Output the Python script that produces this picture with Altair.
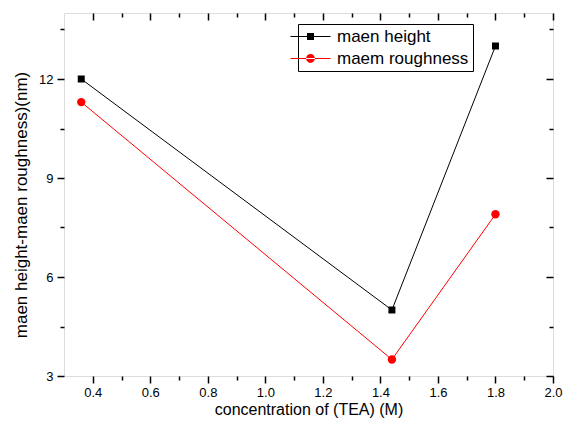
import altair as alt
import pandas as pd

# ---- data ----
conc = [0.36, 1.44, 1.80]
mean_height = [12.0, 5.0, 13.0]
mean_roughness = [11.3, 3.5, 7.9]
series_names = ["maen height", "maem roughness"]
series_colors = ["#000000", "#ff0000"]

x_major = [0.4, 0.6, 0.8, 1.0, 1.2, 1.4, 1.6, 1.8, 2.0]
x_minor = [0.5, 0.7, 0.9, 1.1, 1.3, 1.5, 1.7, 1.9]
y_major = [3, 6, 9, 12]
y_minor = [4.5, 7.5, 10.5, 13.5]

df = pd.DataFrame({
    "conc": conc + conc,
    "value": mean_height + mean_roughness,
    "series": [series_names[0]] * len(conc) + [series_names[1]] * len(conc),
})

FONT = "Liberation Sans"
xs = alt.Scale(domain=[0.3, 2.0], nice=False, zero=False)
ys = alt.Scale(domain=[3, 14], nice=False, zero=False)

common = dict(grid=False, domain=False, tickColor="black", tickWidth=1.5,
              labelFont=FONT, titleFont=FONT, labelColor="black", titleColor="black",
              labelFlush=False, labelOverlap=False)

ax_bottom = alt.Axis(values=x_major, format=".1f", orient="bottom", tickSize=7,
                     labelFontSize=13, labelPadding=3,
                     title="concentration of (TEA) (M)", titleFontSize=16,
                     titleFontWeight="normal", titlePadding=2, **common)
ax_bottom_minor = alt.Axis(values=x_minor, orient="bottom", tickSize=4, labels=False,
                           title=None, **common)
ax_top = alt.Axis(values=x_major, orient="top", tickSize=7, offset=-7, labels=False,
                  title=None, **common)
ax_top_minor = alt.Axis(values=x_minor, orient="top", tickSize=4, offset=-4, labels=False,
                        title=None, **common)

ax_left = alt.Axis(values=y_major, format="d", orient="left", tickSize=7,
                   labelFontSize=13, labelPadding=4,
                   title="maen height-maen roughness)(nm)", titleFontSize=17,
                   titleFontWeight="normal", titlePadding=8, titleY=191.5, **common)
ax_left_minor = alt.Axis(values=y_minor, orient="left", tickSize=4, labels=False,
                         title=None, **common)
ax_right = alt.Axis(values=y_major, orient="right", tickSize=7, offset=-7, labels=False,
                    title=None, **common)
ax_right_minor = alt.Axis(values=y_minor, orient="right", tickSize=4, offset=-4, labels=False,
                          title=None, **common)


def enc(ax_x, ax_y):
    return dict(x=alt.X("conc:Q", scale=xs, axis=ax_x),
                y=alt.Y("value:Q", scale=ys, axis=ax_y))


base = alt.Chart(df)
h = base.transform_filter(alt.datum.series == series_names[0])
r = base.transform_filter(alt.datum.series == series_names[1])

line_h = h.mark_line(color=series_colors[0], strokeWidth=1).encode(**enc(ax_bottom, ax_left))
line_r = r.mark_line(color=series_colors[1], strokeWidth=1).encode(**enc(ax_bottom_minor, ax_left_minor))
pts_h = h.mark_square(color=series_colors[0], size=49, opacity=1).encode(**enc(ax_top, ax_right))
pts_r = r.mark_circle(color=series_colors[1], size=70, opacity=1).encode(**enc(ax_top_minor, ax_right_minor))

# legend: line segment with marker, drawn by the legend itself
sq_path = "M-2.5,-0.07H2.5V0.07H-2.5Z M-0.44,-0.44H0.44V0.44H-0.44Z"
ci_path = ("M-2.5,-0.07H2.5V0.07H-2.5Z M-0.55,0A0.55,0.55 0 1,0 0.55,0"
           "A0.55,0.55 0 1,0 -0.55,0Z")
legend = alt.Legend(title=None, orient="none", legendX=234, legendY=11,
                    labelFont=FONT, labelFontSize=17, labelColor="black",
                    strokeColor="black", padding=4, fillColor="white",
                    symbolSize=256, labelOffset=18, symbolStrokeWidth=0, rowPadding=4)
leg = base.transform_filter("false").mark_point(filled=True, size=256, opacity=1).encode(
    color=alt.Color("series:N", scale=alt.Scale(domain=series_names, range=series_colors),
                    legend=legend),
    shape=alt.Shape("series:N", scale=alt.Scale(domain=series_names, range=[sq_path, ci_path]),
                    legend=legend),
)

chart = alt.layer(line_h, line_r, pts_h, pts_r, leg).resolve_axis(
    x="independent", y="independent"
).properties(
    width=489, height=363,
    autosize=alt.AutoSizeParams(type="none"),
    padding={"left": 64, "top": 13, "right": 11, "bottom": 52},
).configure_view(stroke="black", strokeWidth=1.5).configure(background="white")

chart.save("out.html", embed_options={"renderer": "svg", "actions": False})
